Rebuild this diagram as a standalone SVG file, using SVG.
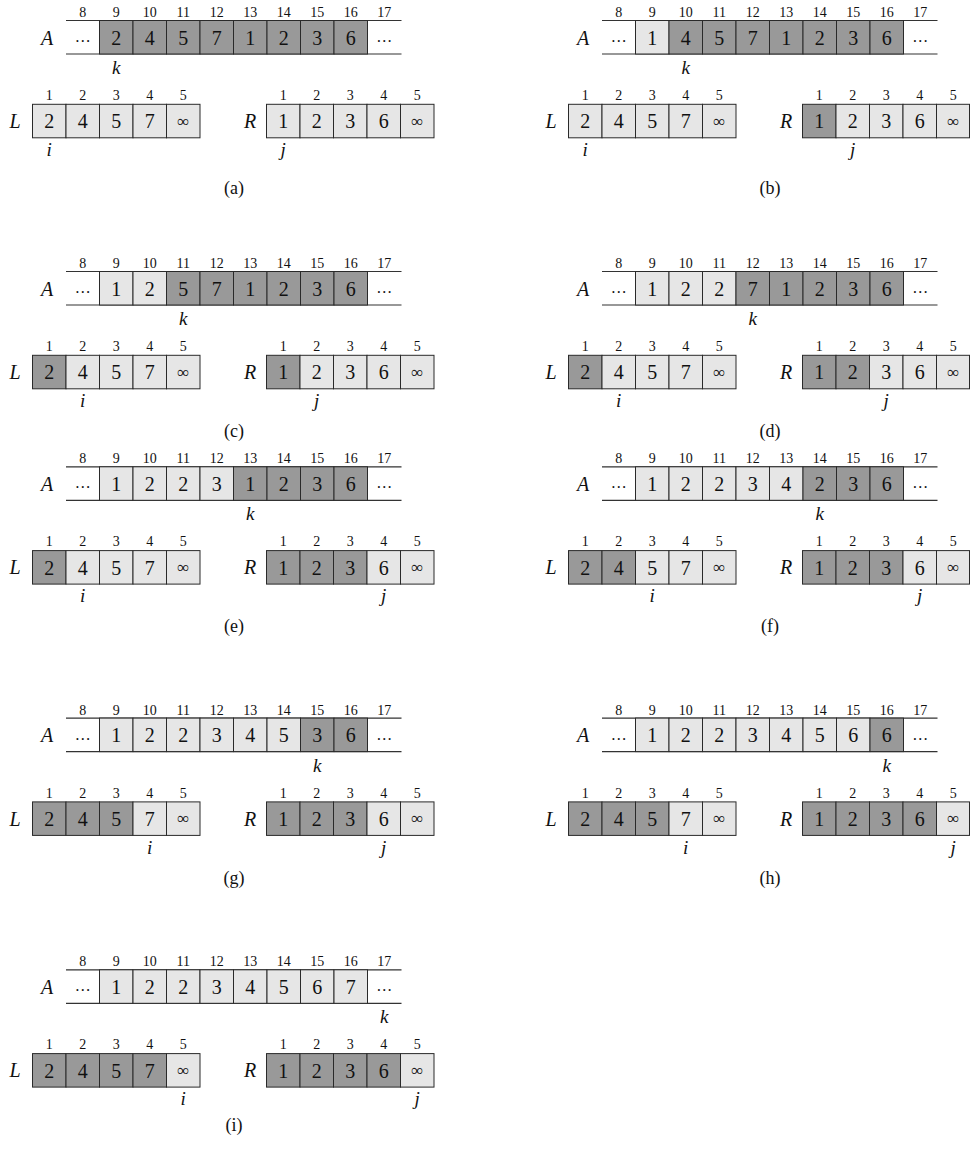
<svg xmlns="http://www.w3.org/2000/svg" width="970" height="1149" viewBox="0 0 970 1149">
<style>
.bg{fill:#ffffff}
.d{fill:#999999;stroke:#2a2a2a;stroke-width:1}
.l{fill:#e6e6e6;stroke:#2a2a2a;stroke-width:1}
.ln{stroke:#333333;stroke-width:1.2;fill:none}
text{font-family:"Liberation Serif","Times New Roman",serif;fill:#111111;text-anchor:middle}
.v{font-size:20px}
.inf{font-size:17px}
.dots{font-size:16px}
.ix{font-size:14px}
.lab{font-size:20px;font-style:italic}
.ptr{font-size:19px;font-style:italic}
.cap{font-size:18px}
</style>
<rect class="bg" x="0" y="0" width="970" height="1149"/>

<g id="panel-a" transform="translate(0,0)">
<text x="82.75" y="17" class="ix">8</text><text x="116.25" y="17" class="ix">9</text><text x="149.75" y="17" class="ix">10</text><text x="183.25" y="17" class="ix">11</text><text x="216.75" y="17" class="ix">12</text><text x="250.25" y="17" class="ix">13</text><text x="283.75" y="17" class="ix">14</text><text x="317.25" y="17" class="ix">15</text><text x="350.75" y="17" class="ix">16</text><text x="384.25" y="17" class="ix">17</text>
<text x="47" y="44.5" class="lab">A</text>
<path class="ln" d="M66 20.5H401.5M66 54H401.5"/>
<rect class="d" x="99.5" y="20.5" width="33.5" height="33.5"/><rect class="d" x="133" y="20.5" width="33.5" height="33.5"/><rect class="d" x="166.5" y="20.5" width="33.5" height="33.5"/><rect class="d" x="200" y="20.5" width="33.5" height="33.5"/><rect class="d" x="233.5" y="20.5" width="33.5" height="33.5"/><rect class="d" x="267" y="20.5" width="33.5" height="33.5"/><rect class="d" x="300.5" y="20.5" width="33.5" height="33.5"/><rect class="d" x="334" y="20.5" width="33.5" height="33.5"/>
<text x="82.75" y="42" class="dots">…</text><text x="116.25" y="44.5" class="v">2</text><text x="149.75" y="44.5" class="v">4</text><text x="183.25" y="44.5" class="v">5</text><text x="216.75" y="44.5" class="v">7</text><text x="250.25" y="44.5" class="v">1</text><text x="283.75" y="44.5" class="v">2</text><text x="317.25" y="44.5" class="v">3</text><text x="350.75" y="44.5" class="v">6</text><text x="384.25" y="42" class="dots">…</text>
<text x="116.25" y="74" class="ptr">k</text>
<text x="49.25" y="100" class="ix">1</text><text x="82.75" y="100" class="ix">2</text><text x="116.25" y="100" class="ix">3</text><text x="149.75" y="100" class="ix">4</text><text x="183.25" y="100" class="ix">5</text>
<text x="15" y="128" class="lab">L</text>
<rect class="l" x="32.5" y="104.3" width="33.5" height="33.5"/><rect class="l" x="66" y="104.3" width="33.5" height="33.5"/><rect class="l" x="99.5" y="104.3" width="33.5" height="33.5"/><rect class="l" x="133" y="104.3" width="33.5" height="33.5"/><rect class="l" x="166.5" y="104.3" width="33.5" height="33.5"/>
<text x="49.25" y="128.3" class="v">2</text><text x="82.75" y="128.3" class="v">4</text><text x="116.25" y="128.3" class="v">5</text><text x="149.75" y="128.3" class="v">7</text><text x="183.25" y="126.5" class="inf">∞</text>
<text x="49.25" y="156" class="ptr">i</text>
<text x="283.25" y="100" class="ix">1</text><text x="316.75" y="100" class="ix">2</text><text x="350.25" y="100" class="ix">3</text><text x="383.75" y="100" class="ix">4</text><text x="417.25" y="100" class="ix">5</text>
<text x="250" y="128" class="lab">R</text>
<rect class="l" x="266.5" y="104.3" width="33.5" height="33.5"/><rect class="l" x="300" y="104.3" width="33.5" height="33.5"/><rect class="l" x="333.5" y="104.3" width="33.5" height="33.5"/><rect class="l" x="367" y="104.3" width="33.5" height="33.5"/><rect class="l" x="400.5" y="104.3" width="33.5" height="33.5"/>
<text x="283.25" y="128.3" class="v">1</text><text x="316.75" y="128.3" class="v">2</text><text x="350.25" y="128.3" class="v">3</text><text x="383.75" y="128.3" class="v">6</text><text x="417.25" y="126.5" class="inf">∞</text>
<text x="283.25" y="156" class="ptr">j</text>
<text x="234" y="194" class="cap">(a)</text>
</g>

<g id="panel-b" transform="translate(536,0)">
<text x="82.75" y="17" class="ix">8</text><text x="116.25" y="17" class="ix">9</text><text x="149.75" y="17" class="ix">10</text><text x="183.25" y="17" class="ix">11</text><text x="216.75" y="17" class="ix">12</text><text x="250.25" y="17" class="ix">13</text><text x="283.75" y="17" class="ix">14</text><text x="317.25" y="17" class="ix">15</text><text x="350.75" y="17" class="ix">16</text><text x="384.25" y="17" class="ix">17</text>
<text x="47" y="44.5" class="lab">A</text>
<path class="ln" d="M66 20.5H401.5M66 54H401.5"/>
<rect class="l" x="99.5" y="20.5" width="33.5" height="33.5"/><rect class="d" x="133" y="20.5" width="33.5" height="33.5"/><rect class="d" x="166.5" y="20.5" width="33.5" height="33.5"/><rect class="d" x="200" y="20.5" width="33.5" height="33.5"/><rect class="d" x="233.5" y="20.5" width="33.5" height="33.5"/><rect class="d" x="267" y="20.5" width="33.5" height="33.5"/><rect class="d" x="300.5" y="20.5" width="33.5" height="33.5"/><rect class="d" x="334" y="20.5" width="33.5" height="33.5"/>
<text x="82.75" y="42" class="dots">…</text><text x="116.25" y="44.5" class="v">1</text><text x="149.75" y="44.5" class="v">4</text><text x="183.25" y="44.5" class="v">5</text><text x="216.75" y="44.5" class="v">7</text><text x="250.25" y="44.5" class="v">1</text><text x="283.75" y="44.5" class="v">2</text><text x="317.25" y="44.5" class="v">3</text><text x="350.75" y="44.5" class="v">6</text><text x="384.25" y="42" class="dots">…</text>
<text x="149.75" y="74" class="ptr">k</text>
<text x="49.25" y="100" class="ix">1</text><text x="82.75" y="100" class="ix">2</text><text x="116.25" y="100" class="ix">3</text><text x="149.75" y="100" class="ix">4</text><text x="183.25" y="100" class="ix">5</text>
<text x="15" y="128" class="lab">L</text>
<rect class="l" x="32.5" y="104.3" width="33.5" height="33.5"/><rect class="l" x="66" y="104.3" width="33.5" height="33.5"/><rect class="l" x="99.5" y="104.3" width="33.5" height="33.5"/><rect class="l" x="133" y="104.3" width="33.5" height="33.5"/><rect class="l" x="166.5" y="104.3" width="33.5" height="33.5"/>
<text x="49.25" y="128.3" class="v">2</text><text x="82.75" y="128.3" class="v">4</text><text x="116.25" y="128.3" class="v">5</text><text x="149.75" y="128.3" class="v">7</text><text x="183.25" y="126.5" class="inf">∞</text>
<text x="49.25" y="156" class="ptr">i</text>
<text x="283.25" y="100" class="ix">1</text><text x="316.75" y="100" class="ix">2</text><text x="350.25" y="100" class="ix">3</text><text x="383.75" y="100" class="ix">4</text><text x="417.25" y="100" class="ix">5</text>
<text x="250" y="128" class="lab">R</text>
<rect class="d" x="266.5" y="104.3" width="33.5" height="33.5"/><rect class="l" x="300" y="104.3" width="33.5" height="33.5"/><rect class="l" x="333.5" y="104.3" width="33.5" height="33.5"/><rect class="l" x="367" y="104.3" width="33.5" height="33.5"/><rect class="l" x="400.5" y="104.3" width="33" height="33.5"/>
<text x="283.25" y="128.3" class="v">1</text><text x="316.75" y="128.3" class="v">2</text><text x="350.25" y="128.3" class="v">3</text><text x="383.75" y="128.3" class="v">6</text><text x="417.25" y="126.5" class="inf">∞</text>
<text x="316.75" y="156" class="ptr">j</text>
<text x="234" y="194" class="cap">(b)</text>
</g>

<g id="panel-c" transform="translate(0,251)">
<text x="82.75" y="17" class="ix">8</text><text x="116.25" y="17" class="ix">9</text><text x="149.75" y="17" class="ix">10</text><text x="183.25" y="17" class="ix">11</text><text x="216.75" y="17" class="ix">12</text><text x="250.25" y="17" class="ix">13</text><text x="283.75" y="17" class="ix">14</text><text x="317.25" y="17" class="ix">15</text><text x="350.75" y="17" class="ix">16</text><text x="384.25" y="17" class="ix">17</text>
<text x="47" y="44.5" class="lab">A</text>
<path class="ln" d="M66 20.5H401.5M66 54H401.5"/>
<rect class="l" x="99.5" y="20.5" width="33.5" height="33.5"/><rect class="l" x="133" y="20.5" width="33.5" height="33.5"/><rect class="d" x="166.5" y="20.5" width="33.5" height="33.5"/><rect class="d" x="200" y="20.5" width="33.5" height="33.5"/><rect class="d" x="233.5" y="20.5" width="33.5" height="33.5"/><rect class="d" x="267" y="20.5" width="33.5" height="33.5"/><rect class="d" x="300.5" y="20.5" width="33.5" height="33.5"/><rect class="d" x="334" y="20.5" width="33.5" height="33.5"/>
<text x="82.75" y="42" class="dots">…</text><text x="116.25" y="44.5" class="v">1</text><text x="149.75" y="44.5" class="v">2</text><text x="183.25" y="44.5" class="v">5</text><text x="216.75" y="44.5" class="v">7</text><text x="250.25" y="44.5" class="v">1</text><text x="283.75" y="44.5" class="v">2</text><text x="317.25" y="44.5" class="v">3</text><text x="350.75" y="44.5" class="v">6</text><text x="384.25" y="42" class="dots">…</text>
<text x="183.25" y="74" class="ptr">k</text>
<text x="49.25" y="100" class="ix">1</text><text x="82.75" y="100" class="ix">2</text><text x="116.25" y="100" class="ix">3</text><text x="149.75" y="100" class="ix">4</text><text x="183.25" y="100" class="ix">5</text>
<text x="15" y="128" class="lab">L</text>
<rect class="d" x="32.5" y="104.3" width="33.5" height="33.5"/><rect class="l" x="66" y="104.3" width="33.5" height="33.5"/><rect class="l" x="99.5" y="104.3" width="33.5" height="33.5"/><rect class="l" x="133" y="104.3" width="33.5" height="33.5"/><rect class="l" x="166.5" y="104.3" width="33.5" height="33.5"/>
<text x="49.25" y="128.3" class="v">2</text><text x="82.75" y="128.3" class="v">4</text><text x="116.25" y="128.3" class="v">5</text><text x="149.75" y="128.3" class="v">7</text><text x="183.25" y="126.5" class="inf">∞</text>
<text x="82.75" y="156" class="ptr">i</text>
<text x="283.25" y="100" class="ix">1</text><text x="316.75" y="100" class="ix">2</text><text x="350.25" y="100" class="ix">3</text><text x="383.75" y="100" class="ix">4</text><text x="417.25" y="100" class="ix">5</text>
<text x="250" y="128" class="lab">R</text>
<rect class="d" x="266.5" y="104.3" width="33.5" height="33.5"/><rect class="l" x="300" y="104.3" width="33.5" height="33.5"/><rect class="l" x="333.5" y="104.3" width="33.5" height="33.5"/><rect class="l" x="367" y="104.3" width="33.5" height="33.5"/><rect class="l" x="400.5" y="104.3" width="33.5" height="33.5"/>
<text x="283.25" y="128.3" class="v">1</text><text x="316.75" y="128.3" class="v">2</text><text x="350.25" y="128.3" class="v">3</text><text x="383.75" y="128.3" class="v">6</text><text x="417.25" y="126.5" class="inf">∞</text>
<text x="316.75" y="156" class="ptr">j</text>
<text x="234" y="186" class="cap">(c)</text>
</g>

<g id="panel-d" transform="translate(536,251)">
<text x="82.75" y="17" class="ix">8</text><text x="116.25" y="17" class="ix">9</text><text x="149.75" y="17" class="ix">10</text><text x="183.25" y="17" class="ix">11</text><text x="216.75" y="17" class="ix">12</text><text x="250.25" y="17" class="ix">13</text><text x="283.75" y="17" class="ix">14</text><text x="317.25" y="17" class="ix">15</text><text x="350.75" y="17" class="ix">16</text><text x="384.25" y="17" class="ix">17</text>
<text x="47" y="44.5" class="lab">A</text>
<path class="ln" d="M66 20.5H401.5M66 54H401.5"/>
<rect class="l" x="99.5" y="20.5" width="33.5" height="33.5"/><rect class="l" x="133" y="20.5" width="33.5" height="33.5"/><rect class="l" x="166.5" y="20.5" width="33.5" height="33.5"/><rect class="d" x="200" y="20.5" width="33.5" height="33.5"/><rect class="d" x="233.5" y="20.5" width="33.5" height="33.5"/><rect class="d" x="267" y="20.5" width="33.5" height="33.5"/><rect class="d" x="300.5" y="20.5" width="33.5" height="33.5"/><rect class="d" x="334" y="20.5" width="33.5" height="33.5"/>
<text x="82.75" y="42" class="dots">…</text><text x="116.25" y="44.5" class="v">1</text><text x="149.75" y="44.5" class="v">2</text><text x="183.25" y="44.5" class="v">2</text><text x="216.75" y="44.5" class="v">7</text><text x="250.25" y="44.5" class="v">1</text><text x="283.75" y="44.5" class="v">2</text><text x="317.25" y="44.5" class="v">3</text><text x="350.75" y="44.5" class="v">6</text><text x="384.25" y="42" class="dots">…</text>
<text x="216.75" y="74" class="ptr">k</text>
<text x="49.25" y="100" class="ix">1</text><text x="82.75" y="100" class="ix">2</text><text x="116.25" y="100" class="ix">3</text><text x="149.75" y="100" class="ix">4</text><text x="183.25" y="100" class="ix">5</text>
<text x="15" y="128" class="lab">L</text>
<rect class="d" x="32.5" y="104.3" width="33.5" height="33.5"/><rect class="l" x="66" y="104.3" width="33.5" height="33.5"/><rect class="l" x="99.5" y="104.3" width="33.5" height="33.5"/><rect class="l" x="133" y="104.3" width="33.5" height="33.5"/><rect class="l" x="166.5" y="104.3" width="33.5" height="33.5"/>
<text x="49.25" y="128.3" class="v">2</text><text x="82.75" y="128.3" class="v">4</text><text x="116.25" y="128.3" class="v">5</text><text x="149.75" y="128.3" class="v">7</text><text x="183.25" y="126.5" class="inf">∞</text>
<text x="82.75" y="156" class="ptr">i</text>
<text x="283.25" y="100" class="ix">1</text><text x="316.75" y="100" class="ix">2</text><text x="350.25" y="100" class="ix">3</text><text x="383.75" y="100" class="ix">4</text><text x="417.25" y="100" class="ix">5</text>
<text x="250" y="128" class="lab">R</text>
<rect class="d" x="266.5" y="104.3" width="33.5" height="33.5"/><rect class="d" x="300" y="104.3" width="33.5" height="33.5"/><rect class="l" x="333.5" y="104.3" width="33.5" height="33.5"/><rect class="l" x="367" y="104.3" width="33.5" height="33.5"/><rect class="l" x="400.5" y="104.3" width="33" height="33.5"/>
<text x="283.25" y="128.3" class="v">1</text><text x="316.75" y="128.3" class="v">2</text><text x="350.25" y="128.3" class="v">3</text><text x="383.75" y="128.3" class="v">6</text><text x="417.25" y="126.5" class="inf">∞</text>
<text x="350.25" y="156" class="ptr">j</text>
<text x="234" y="186" class="cap">(d)</text>
</g>

<g id="panel-e" transform="translate(0,446.3)">
<text x="82.75" y="17" class="ix">8</text><text x="116.25" y="17" class="ix">9</text><text x="149.75" y="17" class="ix">10</text><text x="183.25" y="17" class="ix">11</text><text x="216.75" y="17" class="ix">12</text><text x="250.25" y="17" class="ix">13</text><text x="283.75" y="17" class="ix">14</text><text x="317.25" y="17" class="ix">15</text><text x="350.75" y="17" class="ix">16</text><text x="384.25" y="17" class="ix">17</text>
<text x="47" y="44.5" class="lab">A</text>
<path class="ln" d="M66 20.5H401.5M66 54H401.5"/>
<rect class="l" x="99.5" y="20.5" width="33.5" height="33.5"/><rect class="l" x="133" y="20.5" width="33.5" height="33.5"/><rect class="l" x="166.5" y="20.5" width="33.5" height="33.5"/><rect class="l" x="200" y="20.5" width="33.5" height="33.5"/><rect class="d" x="233.5" y="20.5" width="33.5" height="33.5"/><rect class="d" x="267" y="20.5" width="33.5" height="33.5"/><rect class="d" x="300.5" y="20.5" width="33.5" height="33.5"/><rect class="d" x="334" y="20.5" width="33.5" height="33.5"/>
<text x="82.75" y="42" class="dots">…</text><text x="116.25" y="44.5" class="v">1</text><text x="149.75" y="44.5" class="v">2</text><text x="183.25" y="44.5" class="v">2</text><text x="216.75" y="44.5" class="v">3</text><text x="250.25" y="44.5" class="v">1</text><text x="283.75" y="44.5" class="v">2</text><text x="317.25" y="44.5" class="v">3</text><text x="350.75" y="44.5" class="v">6</text><text x="384.25" y="42" class="dots">…</text>
<text x="250.25" y="74" class="ptr">k</text>
<text x="49.25" y="100" class="ix">1</text><text x="82.75" y="100" class="ix">2</text><text x="116.25" y="100" class="ix">3</text><text x="149.75" y="100" class="ix">4</text><text x="183.25" y="100" class="ix">5</text>
<text x="15" y="128" class="lab">L</text>
<rect class="d" x="32.5" y="104.3" width="33.5" height="33.5"/><rect class="l" x="66" y="104.3" width="33.5" height="33.5"/><rect class="l" x="99.5" y="104.3" width="33.5" height="33.5"/><rect class="l" x="133" y="104.3" width="33.5" height="33.5"/><rect class="l" x="166.5" y="104.3" width="33.5" height="33.5"/>
<text x="49.25" y="128.3" class="v">2</text><text x="82.75" y="128.3" class="v">4</text><text x="116.25" y="128.3" class="v">5</text><text x="149.75" y="128.3" class="v">7</text><text x="183.25" y="126.5" class="inf">∞</text>
<text x="82.75" y="156" class="ptr">i</text>
<text x="283.25" y="100" class="ix">1</text><text x="316.75" y="100" class="ix">2</text><text x="350.25" y="100" class="ix">3</text><text x="383.75" y="100" class="ix">4</text><text x="417.25" y="100" class="ix">5</text>
<text x="250" y="128" class="lab">R</text>
<rect class="d" x="266.5" y="104.3" width="33.5" height="33.5"/><rect class="d" x="300" y="104.3" width="33.5" height="33.5"/><rect class="d" x="333.5" y="104.3" width="33.5" height="33.5"/><rect class="l" x="367" y="104.3" width="33.5" height="33.5"/><rect class="l" x="400.5" y="104.3" width="33.5" height="33.5"/>
<text x="283.25" y="128.3" class="v">1</text><text x="316.75" y="128.3" class="v">2</text><text x="350.25" y="128.3" class="v">3</text><text x="383.75" y="128.3" class="v">6</text><text x="417.25" y="126.5" class="inf">∞</text>
<text x="383.75" y="156" class="ptr">j</text>
<text x="234" y="186" class="cap">(e)</text>
</g>

<g id="panel-f" transform="translate(536,446.3)">
<text x="82.75" y="17" class="ix">8</text><text x="116.25" y="17" class="ix">9</text><text x="149.75" y="17" class="ix">10</text><text x="183.25" y="17" class="ix">11</text><text x="216.75" y="17" class="ix">12</text><text x="250.25" y="17" class="ix">13</text><text x="283.75" y="17" class="ix">14</text><text x="317.25" y="17" class="ix">15</text><text x="350.75" y="17" class="ix">16</text><text x="384.25" y="17" class="ix">17</text>
<text x="47" y="44.5" class="lab">A</text>
<path class="ln" d="M66 20.5H401.5M66 54H401.5"/>
<rect class="l" x="99.5" y="20.5" width="33.5" height="33.5"/><rect class="l" x="133" y="20.5" width="33.5" height="33.5"/><rect class="l" x="166.5" y="20.5" width="33.5" height="33.5"/><rect class="l" x="200" y="20.5" width="33.5" height="33.5"/><rect class="l" x="233.5" y="20.5" width="33.5" height="33.5"/><rect class="d" x="267" y="20.5" width="33.5" height="33.5"/><rect class="d" x="300.5" y="20.5" width="33.5" height="33.5"/><rect class="d" x="334" y="20.5" width="33.5" height="33.5"/>
<text x="82.75" y="42" class="dots">…</text><text x="116.25" y="44.5" class="v">1</text><text x="149.75" y="44.5" class="v">2</text><text x="183.25" y="44.5" class="v">2</text><text x="216.75" y="44.5" class="v">3</text><text x="250.25" y="44.5" class="v">4</text><text x="283.75" y="44.5" class="v">2</text><text x="317.25" y="44.5" class="v">3</text><text x="350.75" y="44.5" class="v">6</text><text x="384.25" y="42" class="dots">…</text>
<text x="283.75" y="74" class="ptr">k</text>
<text x="49.25" y="100" class="ix">1</text><text x="82.75" y="100" class="ix">2</text><text x="116.25" y="100" class="ix">3</text><text x="149.75" y="100" class="ix">4</text><text x="183.25" y="100" class="ix">5</text>
<text x="15" y="128" class="lab">L</text>
<rect class="d" x="32.5" y="104.3" width="33.5" height="33.5"/><rect class="d" x="66" y="104.3" width="33.5" height="33.5"/><rect class="l" x="99.5" y="104.3" width="33.5" height="33.5"/><rect class="l" x="133" y="104.3" width="33.5" height="33.5"/><rect class="l" x="166.5" y="104.3" width="33.5" height="33.5"/>
<text x="49.25" y="128.3" class="v">2</text><text x="82.75" y="128.3" class="v">4</text><text x="116.25" y="128.3" class="v">5</text><text x="149.75" y="128.3" class="v">7</text><text x="183.25" y="126.5" class="inf">∞</text>
<text x="116.25" y="156" class="ptr">i</text>
<text x="283.25" y="100" class="ix">1</text><text x="316.75" y="100" class="ix">2</text><text x="350.25" y="100" class="ix">3</text><text x="383.75" y="100" class="ix">4</text><text x="417.25" y="100" class="ix">5</text>
<text x="250" y="128" class="lab">R</text>
<rect class="d" x="266.5" y="104.3" width="33.5" height="33.5"/><rect class="d" x="300" y="104.3" width="33.5" height="33.5"/><rect class="d" x="333.5" y="104.3" width="33.5" height="33.5"/><rect class="l" x="367" y="104.3" width="33.5" height="33.5"/><rect class="l" x="400.5" y="104.3" width="33" height="33.5"/>
<text x="283.25" y="128.3" class="v">1</text><text x="316.75" y="128.3" class="v">2</text><text x="350.25" y="128.3" class="v">3</text><text x="383.75" y="128.3" class="v">6</text><text x="417.25" y="126.5" class="inf">∞</text>
<text x="383.75" y="156" class="ptr">j</text>
<text x="234" y="186" class="cap">(f)</text>
</g>

<g id="panel-g" transform="translate(0,697.6)">
<text x="82.75" y="17" class="ix">8</text><text x="116.25" y="17" class="ix">9</text><text x="149.75" y="17" class="ix">10</text><text x="183.25" y="17" class="ix">11</text><text x="216.75" y="17" class="ix">12</text><text x="250.25" y="17" class="ix">13</text><text x="283.75" y="17" class="ix">14</text><text x="317.25" y="17" class="ix">15</text><text x="350.75" y="17" class="ix">16</text><text x="384.25" y="17" class="ix">17</text>
<text x="47" y="44.5" class="lab">A</text>
<path class="ln" d="M66 20.5H401.5M66 54H401.5"/>
<rect class="l" x="99.5" y="20.5" width="33.5" height="33.5"/><rect class="l" x="133" y="20.5" width="33.5" height="33.5"/><rect class="l" x="166.5" y="20.5" width="33.5" height="33.5"/><rect class="l" x="200" y="20.5" width="33.5" height="33.5"/><rect class="l" x="233.5" y="20.5" width="33.5" height="33.5"/><rect class="l" x="267" y="20.5" width="33.5" height="33.5"/><rect class="d" x="300.5" y="20.5" width="33.5" height="33.5"/><rect class="d" x="334" y="20.5" width="33.5" height="33.5"/>
<text x="82.75" y="42" class="dots">…</text><text x="116.25" y="44.5" class="v">1</text><text x="149.75" y="44.5" class="v">2</text><text x="183.25" y="44.5" class="v">2</text><text x="216.75" y="44.5" class="v">3</text><text x="250.25" y="44.5" class="v">4</text><text x="283.75" y="44.5" class="v">5</text><text x="317.25" y="44.5" class="v">3</text><text x="350.75" y="44.5" class="v">6</text><text x="384.25" y="42" class="dots">…</text>
<text x="317.25" y="74" class="ptr">k</text>
<text x="49.25" y="100" class="ix">1</text><text x="82.75" y="100" class="ix">2</text><text x="116.25" y="100" class="ix">3</text><text x="149.75" y="100" class="ix">4</text><text x="183.25" y="100" class="ix">5</text>
<text x="15" y="128" class="lab">L</text>
<rect class="d" x="32.5" y="104.3" width="33.5" height="33.5"/><rect class="d" x="66" y="104.3" width="33.5" height="33.5"/><rect class="d" x="99.5" y="104.3" width="33.5" height="33.5"/><rect class="l" x="133" y="104.3" width="33.5" height="33.5"/><rect class="l" x="166.5" y="104.3" width="33.5" height="33.5"/>
<text x="49.25" y="128.3" class="v">2</text><text x="82.75" y="128.3" class="v">4</text><text x="116.25" y="128.3" class="v">5</text><text x="149.75" y="128.3" class="v">7</text><text x="183.25" y="126.5" class="inf">∞</text>
<text x="149.75" y="156" class="ptr">i</text>
<text x="283.25" y="100" class="ix">1</text><text x="316.75" y="100" class="ix">2</text><text x="350.25" y="100" class="ix">3</text><text x="383.75" y="100" class="ix">4</text><text x="417.25" y="100" class="ix">5</text>
<text x="250" y="128" class="lab">R</text>
<rect class="d" x="266.5" y="104.3" width="33.5" height="33.5"/><rect class="d" x="300" y="104.3" width="33.5" height="33.5"/><rect class="d" x="333.5" y="104.3" width="33.5" height="33.5"/><rect class="l" x="367" y="104.3" width="33.5" height="33.5"/><rect class="l" x="400.5" y="104.3" width="33.5" height="33.5"/>
<text x="283.25" y="128.3" class="v">1</text><text x="316.75" y="128.3" class="v">2</text><text x="350.25" y="128.3" class="v">3</text><text x="383.75" y="128.3" class="v">6</text><text x="417.25" y="126.5" class="inf">∞</text>
<text x="383.75" y="156" class="ptr">j</text>
<text x="234" y="186" class="cap">(g)</text>
</g>

<g id="panel-h" transform="translate(536,697.6)">
<text x="82.75" y="17" class="ix">8</text><text x="116.25" y="17" class="ix">9</text><text x="149.75" y="17" class="ix">10</text><text x="183.25" y="17" class="ix">11</text><text x="216.75" y="17" class="ix">12</text><text x="250.25" y="17" class="ix">13</text><text x="283.75" y="17" class="ix">14</text><text x="317.25" y="17" class="ix">15</text><text x="350.75" y="17" class="ix">16</text><text x="384.25" y="17" class="ix">17</text>
<text x="47" y="44.5" class="lab">A</text>
<path class="ln" d="M66 20.5H401.5M66 54H401.5"/>
<rect class="l" x="99.5" y="20.5" width="33.5" height="33.5"/><rect class="l" x="133" y="20.5" width="33.5" height="33.5"/><rect class="l" x="166.5" y="20.5" width="33.5" height="33.5"/><rect class="l" x="200" y="20.5" width="33.5" height="33.5"/><rect class="l" x="233.5" y="20.5" width="33.5" height="33.5"/><rect class="l" x="267" y="20.5" width="33.5" height="33.5"/><rect class="l" x="300.5" y="20.5" width="33.5" height="33.5"/><rect class="d" x="334" y="20.5" width="33.5" height="33.5"/>
<text x="82.75" y="42" class="dots">…</text><text x="116.25" y="44.5" class="v">1</text><text x="149.75" y="44.5" class="v">2</text><text x="183.25" y="44.5" class="v">2</text><text x="216.75" y="44.5" class="v">3</text><text x="250.25" y="44.5" class="v">4</text><text x="283.75" y="44.5" class="v">5</text><text x="317.25" y="44.5" class="v">6</text><text x="350.75" y="44.5" class="v">6</text><text x="384.25" y="42" class="dots">…</text>
<text x="350.75" y="74" class="ptr">k</text>
<text x="49.25" y="100" class="ix">1</text><text x="82.75" y="100" class="ix">2</text><text x="116.25" y="100" class="ix">3</text><text x="149.75" y="100" class="ix">4</text><text x="183.25" y="100" class="ix">5</text>
<text x="15" y="128" class="lab">L</text>
<rect class="d" x="32.5" y="104.3" width="33.5" height="33.5"/><rect class="d" x="66" y="104.3" width="33.5" height="33.5"/><rect class="d" x="99.5" y="104.3" width="33.5" height="33.5"/><rect class="l" x="133" y="104.3" width="33.5" height="33.5"/><rect class="l" x="166.5" y="104.3" width="33.5" height="33.5"/>
<text x="49.25" y="128.3" class="v">2</text><text x="82.75" y="128.3" class="v">4</text><text x="116.25" y="128.3" class="v">5</text><text x="149.75" y="128.3" class="v">7</text><text x="183.25" y="126.5" class="inf">∞</text>
<text x="149.75" y="156" class="ptr">i</text>
<text x="283.25" y="100" class="ix">1</text><text x="316.75" y="100" class="ix">2</text><text x="350.25" y="100" class="ix">3</text><text x="383.75" y="100" class="ix">4</text><text x="417.25" y="100" class="ix">5</text>
<text x="250" y="128" class="lab">R</text>
<rect class="d" x="266.5" y="104.3" width="33.5" height="33.5"/><rect class="d" x="300" y="104.3" width="33.5" height="33.5"/><rect class="d" x="333.5" y="104.3" width="33.5" height="33.5"/><rect class="d" x="367" y="104.3" width="33.5" height="33.5"/><rect class="l" x="400.5" y="104.3" width="33" height="33.5"/>
<text x="283.25" y="128.3" class="v">1</text><text x="316.75" y="128.3" class="v">2</text><text x="350.25" y="128.3" class="v">3</text><text x="383.75" y="128.3" class="v">6</text><text x="417.25" y="126.5" class="inf">∞</text>
<text x="417.25" y="156" class="ptr">j</text>
<text x="234" y="186" class="cap">(h)</text>
</g>

<g id="panel-i" transform="translate(0,949.3)">
<text x="82.75" y="17" class="ix">8</text><text x="116.25" y="17" class="ix">9</text><text x="149.75" y="17" class="ix">10</text><text x="183.25" y="17" class="ix">11</text><text x="216.75" y="17" class="ix">12</text><text x="250.25" y="17" class="ix">13</text><text x="283.75" y="17" class="ix">14</text><text x="317.25" y="17" class="ix">15</text><text x="350.75" y="17" class="ix">16</text><text x="384.25" y="17" class="ix">17</text>
<text x="47" y="44.5" class="lab">A</text>
<path class="ln" d="M66 20.5H401.5M66 54H401.5"/>
<rect class="l" x="99.5" y="20.5" width="33.5" height="33.5"/><rect class="l" x="133" y="20.5" width="33.5" height="33.5"/><rect class="l" x="166.5" y="20.5" width="33.5" height="33.5"/><rect class="l" x="200" y="20.5" width="33.5" height="33.5"/><rect class="l" x="233.5" y="20.5" width="33.5" height="33.5"/><rect class="l" x="267" y="20.5" width="33.5" height="33.5"/><rect class="l" x="300.5" y="20.5" width="33.5" height="33.5"/><rect class="l" x="334" y="20.5" width="33.5" height="33.5"/>
<text x="82.75" y="42" class="dots">…</text><text x="116.25" y="44.5" class="v">1</text><text x="149.75" y="44.5" class="v">2</text><text x="183.25" y="44.5" class="v">2</text><text x="216.75" y="44.5" class="v">3</text><text x="250.25" y="44.5" class="v">4</text><text x="283.75" y="44.5" class="v">5</text><text x="317.25" y="44.5" class="v">6</text><text x="350.75" y="44.5" class="v">7</text><text x="384.25" y="42" class="dots">…</text>
<text x="384.25" y="74" class="ptr">k</text>
<text x="49.25" y="100" class="ix">1</text><text x="82.75" y="100" class="ix">2</text><text x="116.25" y="100" class="ix">3</text><text x="149.75" y="100" class="ix">4</text><text x="183.25" y="100" class="ix">5</text>
<text x="15" y="128" class="lab">L</text>
<rect class="d" x="32.5" y="104.3" width="33.5" height="33.5"/><rect class="d" x="66" y="104.3" width="33.5" height="33.5"/><rect class="d" x="99.5" y="104.3" width="33.5" height="33.5"/><rect class="d" x="133" y="104.3" width="33.5" height="33.5"/><rect class="l" x="166.5" y="104.3" width="33.5" height="33.5"/>
<text x="49.25" y="128.3" class="v">2</text><text x="82.75" y="128.3" class="v">4</text><text x="116.25" y="128.3" class="v">5</text><text x="149.75" y="128.3" class="v">7</text><text x="183.25" y="126.5" class="inf">∞</text>
<text x="183.25" y="156" class="ptr">i</text>
<text x="283.25" y="100" class="ix">1</text><text x="316.75" y="100" class="ix">2</text><text x="350.25" y="100" class="ix">3</text><text x="383.75" y="100" class="ix">4</text><text x="417.25" y="100" class="ix">5</text>
<text x="250" y="128" class="lab">R</text>
<rect class="d" x="266.5" y="104.3" width="33.5" height="33.5"/><rect class="d" x="300" y="104.3" width="33.5" height="33.5"/><rect class="d" x="333.5" y="104.3" width="33.5" height="33.5"/><rect class="d" x="367" y="104.3" width="33.5" height="33.5"/><rect class="l" x="400.5" y="104.3" width="33.5" height="33.5"/>
<text x="283.25" y="128.3" class="v">1</text><text x="316.75" y="128.3" class="v">2</text><text x="350.25" y="128.3" class="v">3</text><text x="383.75" y="128.3" class="v">6</text><text x="417.25" y="126.5" class="inf">∞</text>
<text x="417.25" y="156" class="ptr">j</text>
<text x="234" y="182" class="cap">(i)</text>
</g>
</svg>
